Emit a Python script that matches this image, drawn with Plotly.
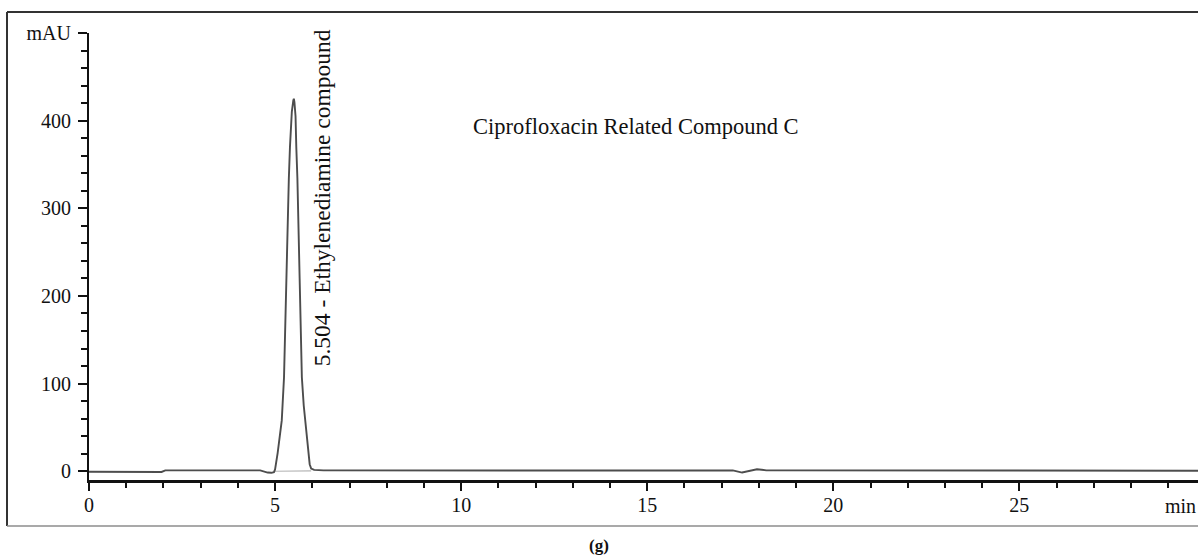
import plotly.graph_objects as go

# Chromatogram trace: retention time (min) vs detector response (mAU)
time_min = [0.0, 1.0, 1.95, 2.05, 3.0, 4.0, 4.6, 4.80, 4.90, 4.97, 5.00, 5.07,
            5.13, 5.18, 5.24, 5.30, 5.37, 5.40, 5.45, 5.49, 5.504, 5.52, 5.55,
            5.57, 5.60, 5.66, 5.72, 5.77, 5.81, 5.88, 5.93, 5.97, 6.05, 6.3,
            8.0, 10.0, 12.0, 14.0, 16.0, 17.3, 17.55, 17.75, 17.95, 18.2, 20.0,
            22.0, 24.0, 25.2, 26.0, 28.0, 29.8]
absorbance_mau = [-0.6, -0.6, -0.8, 1.0, 1.2, 1.2, 1.0, -1.5, -1.8, -1.0, 2.0, 21,
                  40, 58, 107, 220, 334, 370, 410, 423, 425, 421, 405,
                  370, 334, 220, 107, 75, 58, 25, 8, 3, 1.5, 1.0,
                  0.8, 0.6, 0.6, 0.8, 0.8, 1.0, -1.5, 0.5, 2.3, 1.0, 0.8,
                  0.8, 1.0, 0.6, 0.3, 0.6, 0.6]

# Integration baseline drawn under the main peak
baseline_time = [4.97, 5.97]
baseline_mau = [0.0, 0.5]

# Peak annotation
peak_rt = 5.504
peak_height = 425
peak_label = "5.504 - Ethylenediamine compound"
sample_title = "Ciprofloxacin Related Compound C"
panel_caption = "(g)"

x_ticks = [0, 5, 10, 15, 20, 25]
y_ticks = [0, 100, 200, 300, 400, 500]
y_tick_text = ["0", "100", "200", "300", "400", "mAU"]

W, H = 1198, 560
ML, MR, MT, MB = 89, 0, 33, 80
PW, PH = W - ML - MR, H - MT - MB

SERIF = "Liberation Serif, Times New Roman, serif"
INK = "#111111"


def px_to_paper_x(px):
    return (px - ML) / PW


def px_to_paper_y(py):
    return (H - MB - py) / PH


fig = go.Figure()

fig.add_trace(go.Scatter(
    x=baseline_time, y=baseline_mau, mode="lines",
    line=dict(color="#b5b5b5", width=1.2), hoverinfo="skip", showlegend=False,
))
fig.add_trace(go.Scatter(
    x=time_min, y=absorbance_mau, mode="lines",
    line=dict(color="#4d4d4d", width=1.9), showlegend=False,
))

# Retention-time label, rotated along the peak
fig.add_annotation(
    x=peak_rt + 0.76, y=117, xref="x", yref="y", text=peak_label,
    textangle=-90, showarrow=False, xanchor="center", yanchor="bottom",
    font=dict(family=SERIF, size=23.5, color=INK),
)
fig.add_annotation(
    x=14.7, y=393, xref="x", yref="y", text=sample_title,
    showarrow=False, xanchor="center", yanchor="middle",
    font=dict(family=SERIF, size=22.5, color=INK),
)
# Time unit label at the right end of the x-axis
fig.add_annotation(
    x=px_to_paper_x(1198), y=px_to_paper_y(506), xref="paper", yref="paper",
    text="min", showarrow=False, xanchor="right", yanchor="middle",
    font=dict(family=SERIF, size=20, color=INK),
)
fig.add_annotation(
    x=px_to_paper_x(599), y=px_to_paper_y(545), xref="paper", yref="paper",
    text="<b>" + panel_caption + "</b>", showarrow=False,
    xanchor="center", yanchor="middle",
    font=dict(family=SERIF, size=17, color=INK),
)

# Outer frame around the chromatogram panel
fx0, fx1 = px_to_paper_x(7), px_to_paper_x(1210)
fy0, fy1 = px_to_paper_y(526), px_to_paper_y(12)
fig.add_shape(type="line", xref="paper", yref="paper", x0=fx0, x1=fx0, y0=fy0, y1=fy1,
              line=dict(color="#333333", width=2))
fig.add_shape(type="line", xref="paper", yref="paper", x0=fx0, x1=fx1, y0=fy1, y1=fy1,
              line=dict(color="#333333", width=2))
fig.add_shape(type="line", xref="paper", yref="paper", x0=fx0, x1=fx1, y0=fy0, y1=fy0,
              line=dict(color="#8c8c8c", width=1.5))

fig.update_layout(
    width=W, height=H,
    margin=dict(l=ML, r=MR, t=MT, b=MB, pad=0),
    paper_bgcolor="white", plot_bgcolor="white",
    font=dict(family=SERIF, color=INK),
    xaxis=dict(
        range=[0, 29.8], tickvals=x_ticks, ticktext=[str(v) for v in x_ticks],
        showgrid=False, zeroline=False, showline=True, linecolor=INK, linewidth=2.5,
        ticks="outside", ticklen=8, tickwidth=2, tickcolor=INK,
        minor=dict(dtick=1, ticks="outside", ticklen=5, tickwidth=2, tickcolor=INK),
        tickfont=dict(family=SERIF, size=20, color=INK), ticklabelstandoff=-3,
    ),
    yaxis=dict(
        range=[-10, 500], tickvals=y_ticks, ticktext=y_tick_text,
        showgrid=False, zeroline=False, showline=True, linecolor=INK, linewidth=2,
        ticks="outside", ticklen=9, tickwidth=2, tickcolor=INK,
        minor=dict(dtick=20, ticks="outside", ticklen=6, tickwidth=2, tickcolor=INK),
        tickfont=dict(family=SERIF, size=20, color=INK), ticklabelstandoff=3,
    ),
)

fig.write_html("out.html")
